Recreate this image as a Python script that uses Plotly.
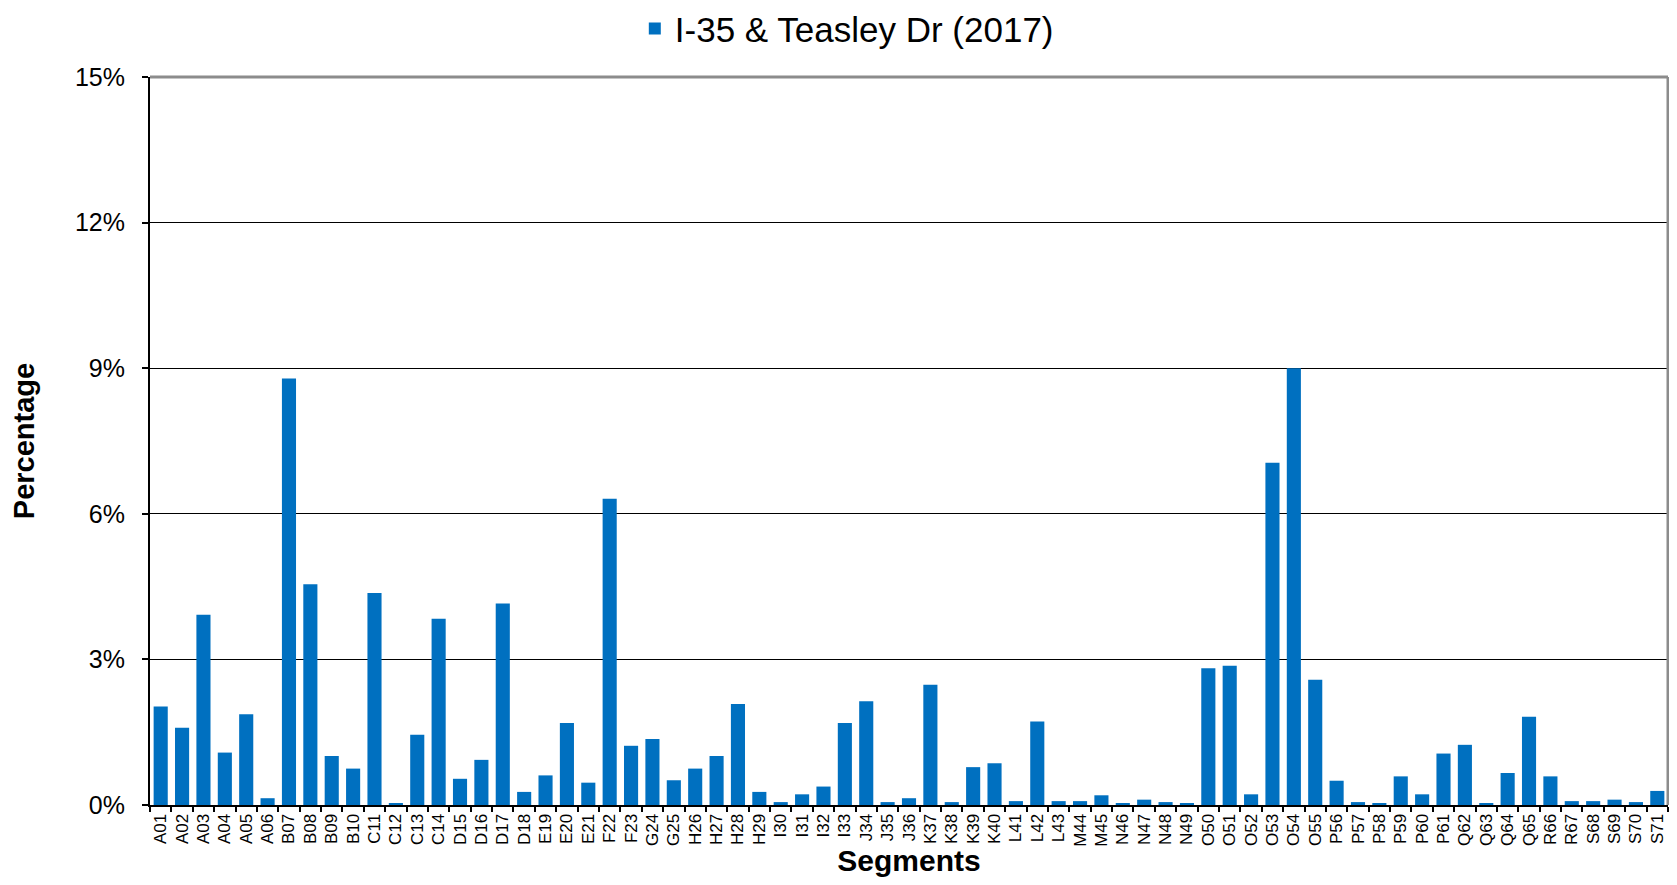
import plotly.graph_objects as go

# segment labels and share of crashes (%)
segments = [
    "A01", "A02", "A03", "A04", "A05", "A06", "B07", "B08", "B09", "B10",
    "C11", "C12", "C13", "C14", "D15", "D16", "D17", "D18", "E19", "E20",
    "E21", "F22", "F23", "G24", "G25", "H26", "H27", "H28", "H29", "I30",
    "I31", "I32", "I33", "J34", "J35", "J36", "K37", "K38", "K39", "K40",
    "L41", "L42", "L43", "M44", "M45", "N46", "N47", "N48", "N49", "O50",
    "O51", "O52", "O53", "O54", "O55", "P56", "P57", "P58", "P59", "P60",
    "P61", "Q62", "Q63", "Q64", "Q65", "R66", "R67", "S68", "S69", "S70",
    "S71",
]
percentages = [
    2.03, 1.59, 3.92, 1.08, 1.87, 0.14, 8.79, 4.55, 1.01, 0.75,
    4.37, 0.03, 1.45, 3.84, 0.54, 0.93, 4.15, 0.27, 0.61, 1.69,
    0.46, 6.31, 1.22, 1.36, 0.51, 0.75, 1.01, 2.08, 0.27, 0.06,
    0.22, 0.38, 1.69, 2.14, 0.06, 0.14, 2.48, 0.06, 0.78, 0.86,
    0.08, 1.72, 0.08, 0.08, 0.20, 0.03, 0.11, 0.06, 0.03, 2.82,
    2.87, 0.22, 7.05, 9.00, 2.58, 0.50, 0.06, 0.03, 0.59, 0.22,
    1.06, 1.24, 0.03, 0.66, 1.82, 0.59, 0.08, 0.08, 0.11, 0.06,
    0.29,
]
series_name = "I-35 & Teasley Dr (2017)"
y_ticks = [0, 3, 6, 9, 12, 15]
y_tick_labels = [f"{v}%" for v in y_ticks]

FONT = "Liberation Sans, Arial, sans-serif"

fig = go.Figure()
fig.add_trace(go.Bar(
    x=segments,
    y=percentages,
    name=series_name,
    marker=dict(color="#0070C0", line=dict(width=0)),
    showlegend=True,
))

# grey frame on top and right of the plot area (Excel style)
fig.add_shape(type="line", xref="paper", yref="paper", x0=0, x1=1, y0=1, y1=1,
              line=dict(color="#8c8c8c", width=3))
fig.add_shape(type="line", xref="paper", yref="paper", x0=1, x1=1, y0=0, y1=1,
              line=dict(color="#8c8c8c", width=3))

# page body has an 8px margin, so the figure is sized to fit inside it
fig.update_layout(
    width=1661,
    height=869,
    paper_bgcolor="white",
    plot_bgcolor="white",
    font=dict(family=FONT, color="black"),
    bargap=0.34,
    margin=dict(l=142, r=1, t=69, b=72),
    showlegend=True,
    legend=dict(
        orientation="h",
        xref="container", yref="container",
        x=0.505, xanchor="center",
        y=0.976, yanchor="middle",
        font=dict(size=35, family=FONT, color="black"),
        bgcolor="rgba(0,0,0,0)",
    ),
    xaxis=dict(
        type="category",
        showline=True, linecolor="black", linewidth=2,
        ticks="outside", tickson="boundaries", ticklen=5, tickcolor="black", tickwidth=1.5,
        tickangle=-90,
        tickfont=dict(size=17, family=FONT, color="black"),
        showgrid=False,
        title=dict(text="<b>Segments</b>", font=dict(size=30, family=FONT, color="black"), standoff=6),
        automargin=False,
    ),
    yaxis=dict(
        range=[0, 15],
        tickmode="array",
        tickvals=y_ticks,
        ticktext=y_tick_labels,
        showline=True, linecolor="black", linewidth=2,
        ticks="outside", ticklen=6, tickcolor="black", tickwidth=1.5,
        ticklabelstandoff=12,
        tickfont=dict(size=25, family=FONT, color="black"),
        showgrid=True, gridcolor="black", gridwidth=1,
        zeroline=False,
        title=dict(text="<b>Percentage</b>", font=dict(size=29, family=FONT, color="black"), standoff=34),
        automargin=False,
    ),
)

fig.write_html("out.html")
